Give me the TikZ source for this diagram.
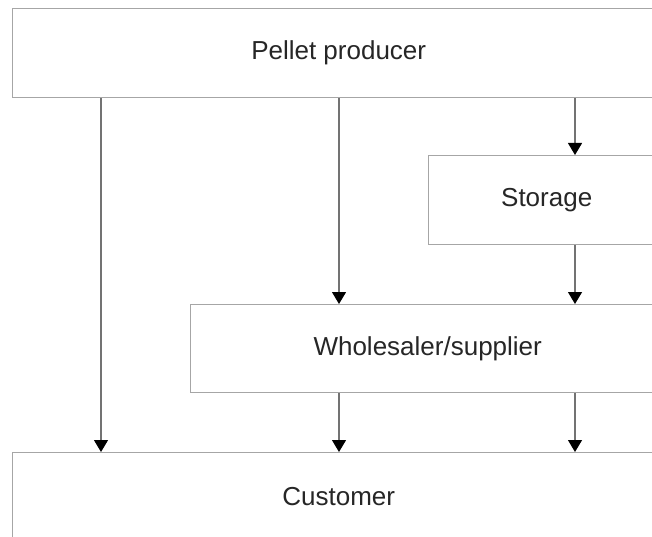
\documentclass[tikz,border=0pt]{standalone}
\usepackage{fontspec}
\setmainfont{Liberation Sans}
\usetikzlibrary{arrows.meta}
\tikzset{
  box/.style={draw=black!35, line width=1.4pt, fill=white, rectangle, anchor=north west, inner sep=0pt,
    font=\fontsize{26}{30}\selectfont, text=black!85},
  flow/.style={draw=black!55, line width=1.1pt, -{Triangle[width=14pt,length=12pt,color=black]}}
}
\begin{document}
\begin{tikzpicture}[x=1pt,y=-1pt]
\useasboundingbox[fill=white] (0,0) rectangle (652,537);
\begin{scope}
\clip (0,0) rectangle (652,537);
\node[box, minimum width=652pt, minimum height=89pt] (prod) at (12,8) {Pellet producer};
\node[box, minimum width=236pt, minimum height=89pt] (stor) at (428,155) {Storage};
\node[box, minimum width=474pt, minimum height=88pt] (whol) at (190,304) {Wholesaler/supplier};
\node[box, minimum width=652pt, minimum height=88pt] (cust) at (12,452) {Customer};
\coordinate (ca) at (101,0);
\coordinate (cb) at (339,0);
\coordinate (cc) at (575,0);
\draw[flow] (prod.south -| ca) -- (cust.north -| ca);
\draw[flow] (prod.south -| cb) -- (whol.north -| cb);
\draw[flow] (prod.south -| cc) -- (stor.north -| cc);
\draw[flow] (stor.south -| cc) -- (whol.north -| cc);
\draw[flow] (whol.south -| cb) -- (cust.north -| cb);
\draw[flow] (whol.south -| cc) -- (cust.north -| cc);
\end{scope}
\end{tikzpicture}
\end{document}
